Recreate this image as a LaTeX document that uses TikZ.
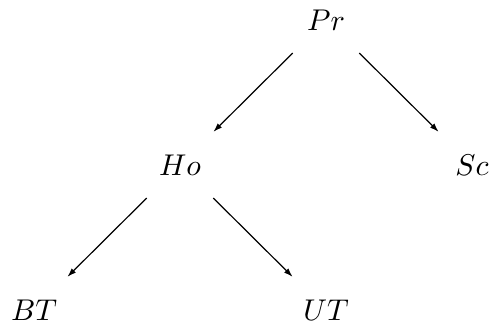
\documentclass[tikz,border=0pt]{standalone}
\usepackage{tikz}
\usetikzlibrary{arrows.meta,positioning}

\begin{document}
\begin{tikzpicture}[
node distance=145pt and 146pt,on grid,
lbl/.style={scale=3,inner sep=1pt},
arr/.style={-{Latex[length=9pt,width=6pt]},line width=1.2pt,shorten <=47pt,shorten >=47pt}
]
\useasboundingbox (0pt,0pt) rectangle (489pt,-326pt);
\node[lbl] (pr) at (326pt,-20pt) {$Pr$};
\node[lbl,below left=of pr] (ho) {$Ho$};
\node[lbl,below right=of pr] (sc) {$Sc$};
\node[lbl,below left=of ho] (bt) {$BT$};
\node[lbl,below right=of ho] (ut) {$UT$};
\draw[arr] (pr.center)--(ho.center);\draw[arr] (pr.center)--(sc.center);
\draw[arr] (ho.center)--(bt.center);\draw[arr] (ho.center)--(ut.center);
\end{tikzpicture}
\end{document}
